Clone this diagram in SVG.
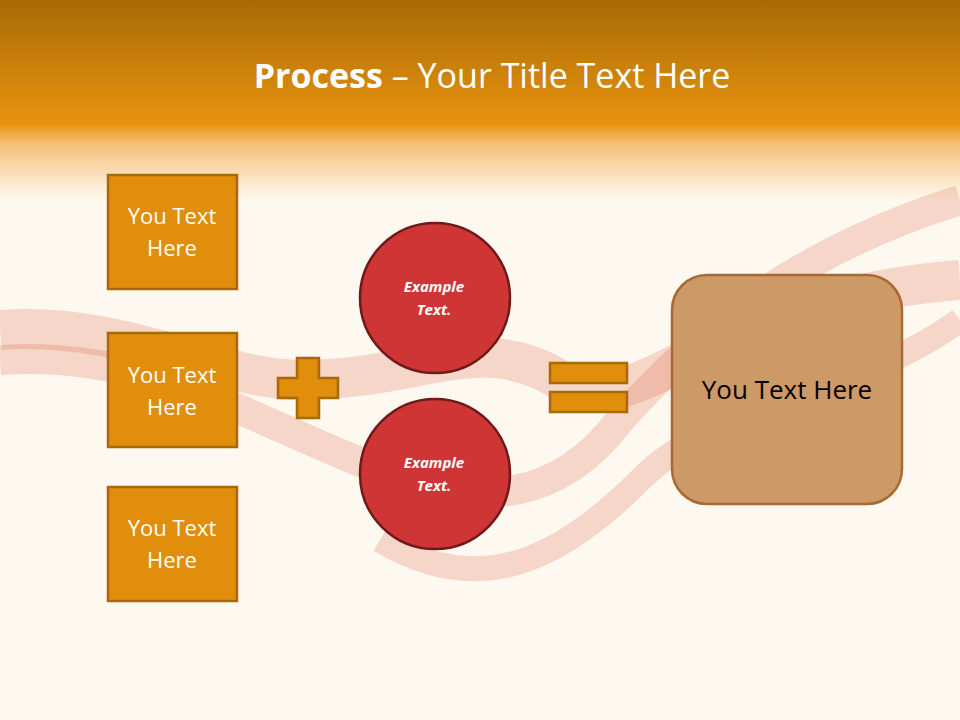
<svg xmlns="http://www.w3.org/2000/svg" width="960" height="720" viewBox="0 0 960 720">
<defs>
<linearGradient id="hdr" x1="0" y1="0" x2="0" y2="1">
<stop offset="0" stop-color="#a86a06"/>
<stop offset="0.62" stop-color="#e8930e"/>
<stop offset="0.72" stop-color="#f6c07a"/>
<stop offset="1" stop-color="#fef9f0"/>
</linearGradient>
<style>
.box{fill:#e08e0b;stroke:#a86a08;stroke-width:2.5}
.bt{font-family:"Open Sans","Liberation Sans",sans-serif;font-size:22px;fill:#fff;text-anchor:middle}
.circ{fill:#d03535;stroke:#6e1a1a;stroke-width:2.5}
.ct{font-family:"Open Sans","Liberation Sans",sans-serif;font-size:15px;font-weight:bold;font-style:italic;fill:#fff;text-anchor:middle}
.op{fill:#e08e0b;stroke:#a86a08;stroke-width:2.5}
.smoke{fill:none;stroke:#e07050;stroke-opacity:0.25}
</style>
</defs>
<rect width="960" height="720" fill="#fef9f0"/>
<rect width="960" height="200" fill="url(#hdr)"/>
<g class="smoke">
<path d="M0 330 C120 320 220 380 300 380 C420 380 480 330 560 380 C640 430 700 300 960 280" stroke-width="40"/>
<path d="M0 360 C150 350 250 420 380 470 C480 510 560 500 620 420 C700 330 800 250 960 200" stroke-width="30"/>
<path d="M380 540 C480 600 560 560 640 480 C720 400 850 400 960 320" stroke-width="25"/>
</g>
<text x="492" y="88" font-family="'Open Sans','Liberation Sans',sans-serif" font-size="34" fill="#fff" text-anchor="middle"><tspan font-weight="bold">Process</tspan> – Your Title Text Here</text>
<g id="box1"><rect class="box" x="108" y="175" width="129" height="114"/><text class="bt" x="172" y="224">You Text</text><text class="bt" x="172" y="256">Here</text></g>
<g id="box2"><rect class="box" x="108" y="333" width="129" height="114"/><text class="bt" x="172" y="383">You Text</text><text class="bt" x="172" y="415">Here</text></g>
<g id="box3"><rect class="box" x="108" y="487" width="129" height="114"/><text class="bt" x="172" y="536">You Text</text><text class="bt" x="172" y="568">Here</text></g>
<g id="plus"><path class="op" d="M297 358 H319 V378 H338 V398 H319 V418 H297 V398 H278 V378 H297 Z"/></g>
<g id="circle1"><circle class="circ" cx="435" cy="298" r="75"/><text class="ct" x="434" y="292">Example</text><text class="ct" x="434" y="315">Text.</text></g>
<g id="circle2"><circle class="circ" cx="435" cy="474" r="75"/><text class="ct" x="434" y="468">Example</text><text class="ct" x="434" y="491">Text.</text></g>
<g id="equals"><rect class="op" x="550" y="363" width="77" height="20"/><rect class="op" x="550" y="392" width="77" height="20"/></g>
<g id="result"><rect x="672" y="275" width="230" height="229" rx="35" fill="#cd9966" stroke="#a86a30" stroke-width="2.5"/><text x="787" y="399" font-family="'Open Sans','Liberation Sans',sans-serif" font-size="26" fill="#000" text-anchor="middle">You Text Here</text></g>
<g id="connectors"/>
</svg>
